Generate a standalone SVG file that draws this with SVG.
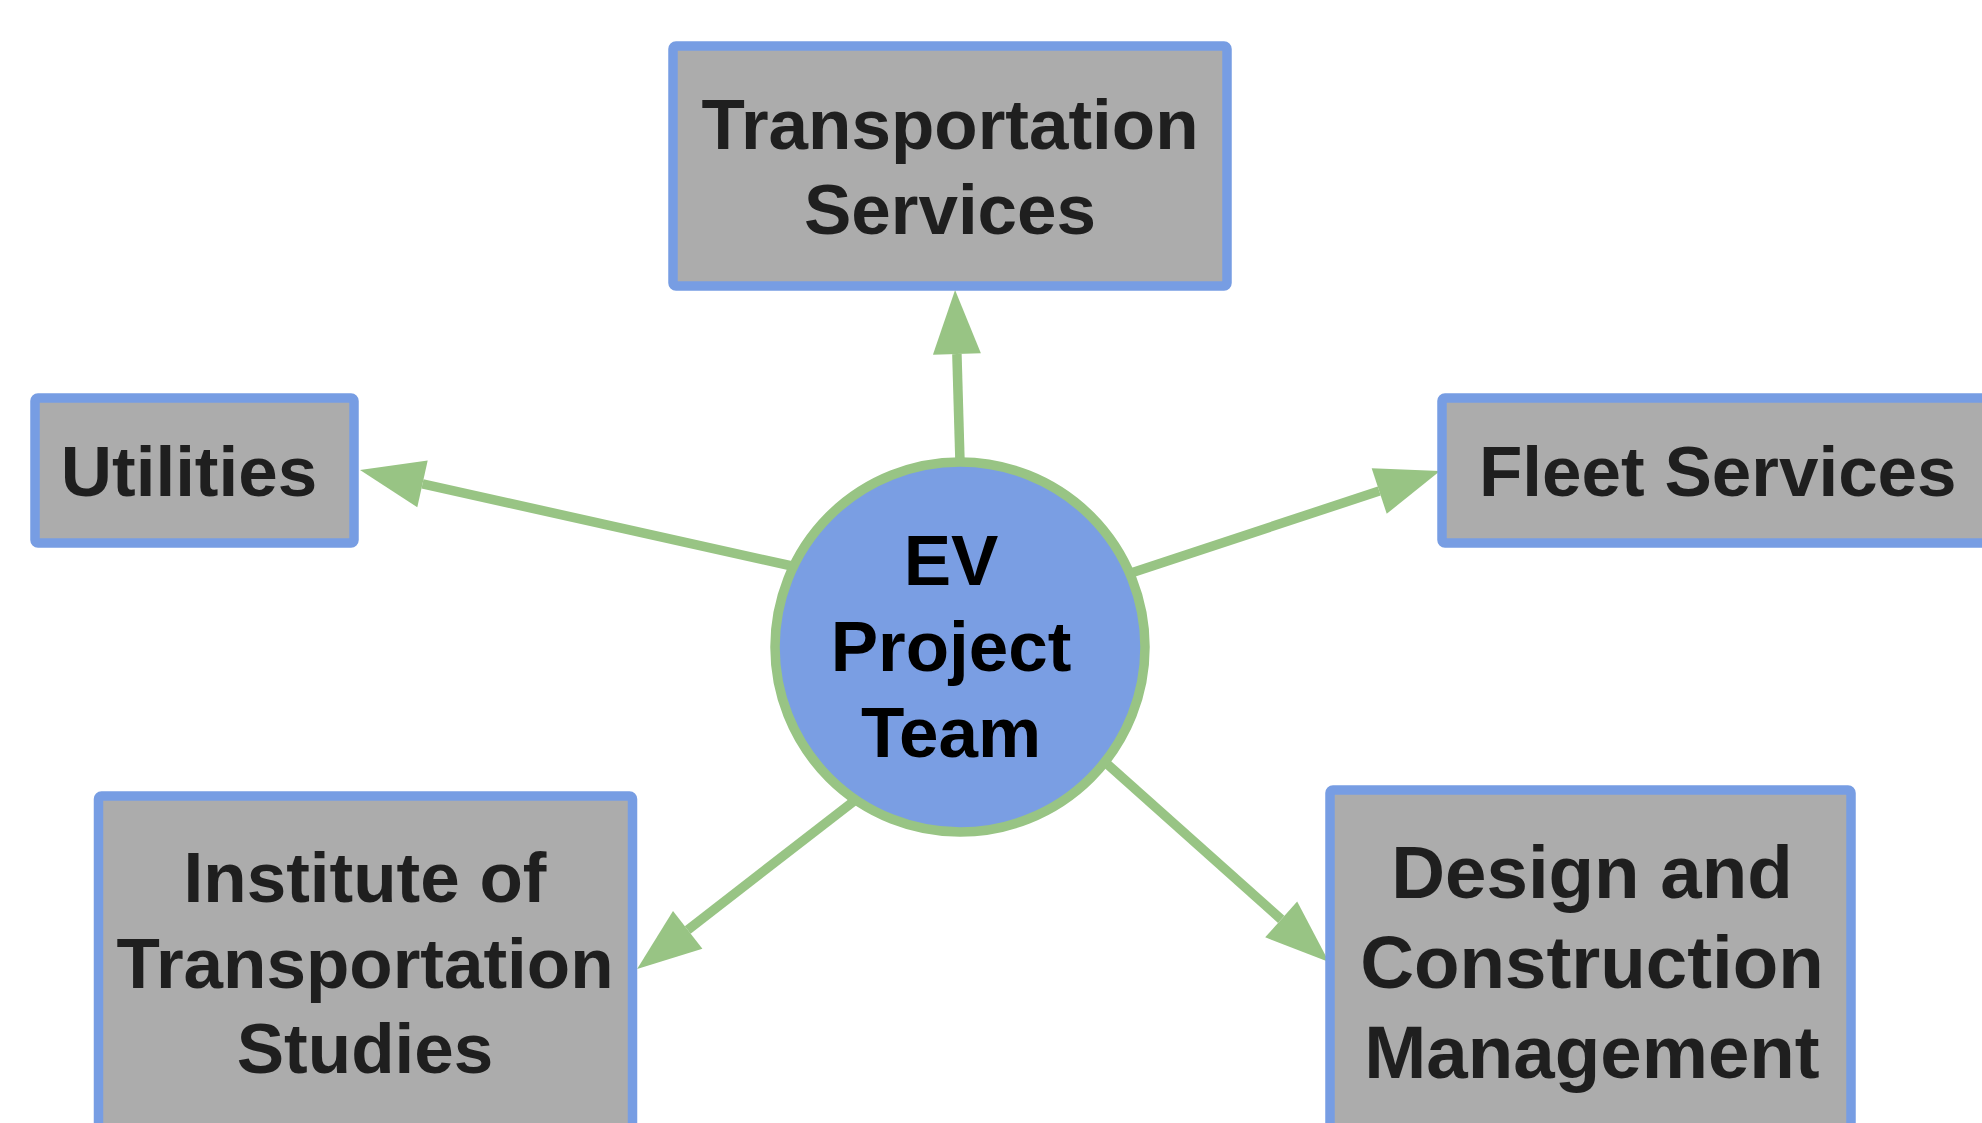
<svg xmlns="http://www.w3.org/2000/svg" width="1982" height="1123" viewBox="0 0 1982 1123">
  <style>
    .box { fill: #acacac; stroke: #779de3; stroke-width: 9.5; }
    .hub { fill: #7a9ee3; stroke: #98c484; stroke-width: 9.5; }
    .lbl { font-family: "Liberation Sans", Arial, sans-serif; font-weight: bold; font-size: 71px; fill: #1f1f1f; text-anchor: middle; }
    .big { font-size: 74.5px; }
    .hubl { fill: #000000; }
    .conn { stroke: #98c484; stroke-width: 9.5; fill: none; marker-end: url(#arrow); }
  </style>
  <defs>
    <marker id="arrow" markerUnits="userSpaceOnUse" viewBox="0 -25 65 50" refX="0" refY="0" markerWidth="65" markerHeight="50" orient="auto" overflow="visible">
      <path d="M0,-24 L64,0 L0,24 Z" fill="#98c484"/>
    </marker>
  </defs>
  <rect width="1982" height="1123" fill="#ffffff"/>

  <g id="connectors">
    <line class="conn" x1="960" y1="462" x2="956.9" y2="354"/>
    <line class="conn" x1="792" y1="566" x2="422.5" y2="483.9"/>
    <line class="conn" x1="1128" y1="574" x2="1379.2" y2="491"/>
    <line class="conn" x1="858" y1="798" x2="687.7" y2="929.9"/>
    <line class="conn" x1="1106" y1="763" x2="1281.2" y2="919.4"/>
  </g>

  <g id="node-transportation-services">
    <rect class="box" x="673" y="46" width="554" height="240" rx="3"/>
    <text class="lbl" x="950" y="149">Transportation</text>
    <text class="lbl" x="950" y="234">Services</text>
  </g>

  <g id="node-utilities">
    <rect class="box" x="35" y="398" width="319" height="145" rx="3"/>
    <text class="lbl" x="189" y="496">Utilities</text>
  </g>

  <g id="node-fleet-services">
    <rect class="box" x="1442" y="398" width="600" height="145" rx="3"/>
    <text class="lbl" x="1479" y="496" style="text-anchor:start">Fleet Services</text>
  </g>

  <g id="node-ev-project-team">
    <circle class="hub" cx="960" cy="647" r="185"/>
    <text class="lbl hubl" x="951" y="585">EV</text>
    <text class="lbl hubl" x="951" y="671">Project</text>
    <text class="lbl hubl" x="951" y="757">Team</text>
  </g>

  <g id="node-institute-of-transportation-studies">
    <rect class="box" x="98.5" y="796" width="534" height="400" rx="3"/>
    <text class="lbl" x="365" y="902">Institute of</text>
    <text class="lbl" x="365" y="988">Transportation</text>
    <text class="lbl" x="365" y="1073">Studies</text>
  </g>

  <g id="node-design-and-construction-management">
    <rect class="box" x="1330" y="790" width="521" height="400" rx="3"/>
    <text class="lbl big" x="1592" y="898">Design and</text>
    <text class="lbl big" x="1592" y="988">Construction</text>
    <text class="lbl big" x="1592" y="1078">Management</text>
  </g>
</svg>
